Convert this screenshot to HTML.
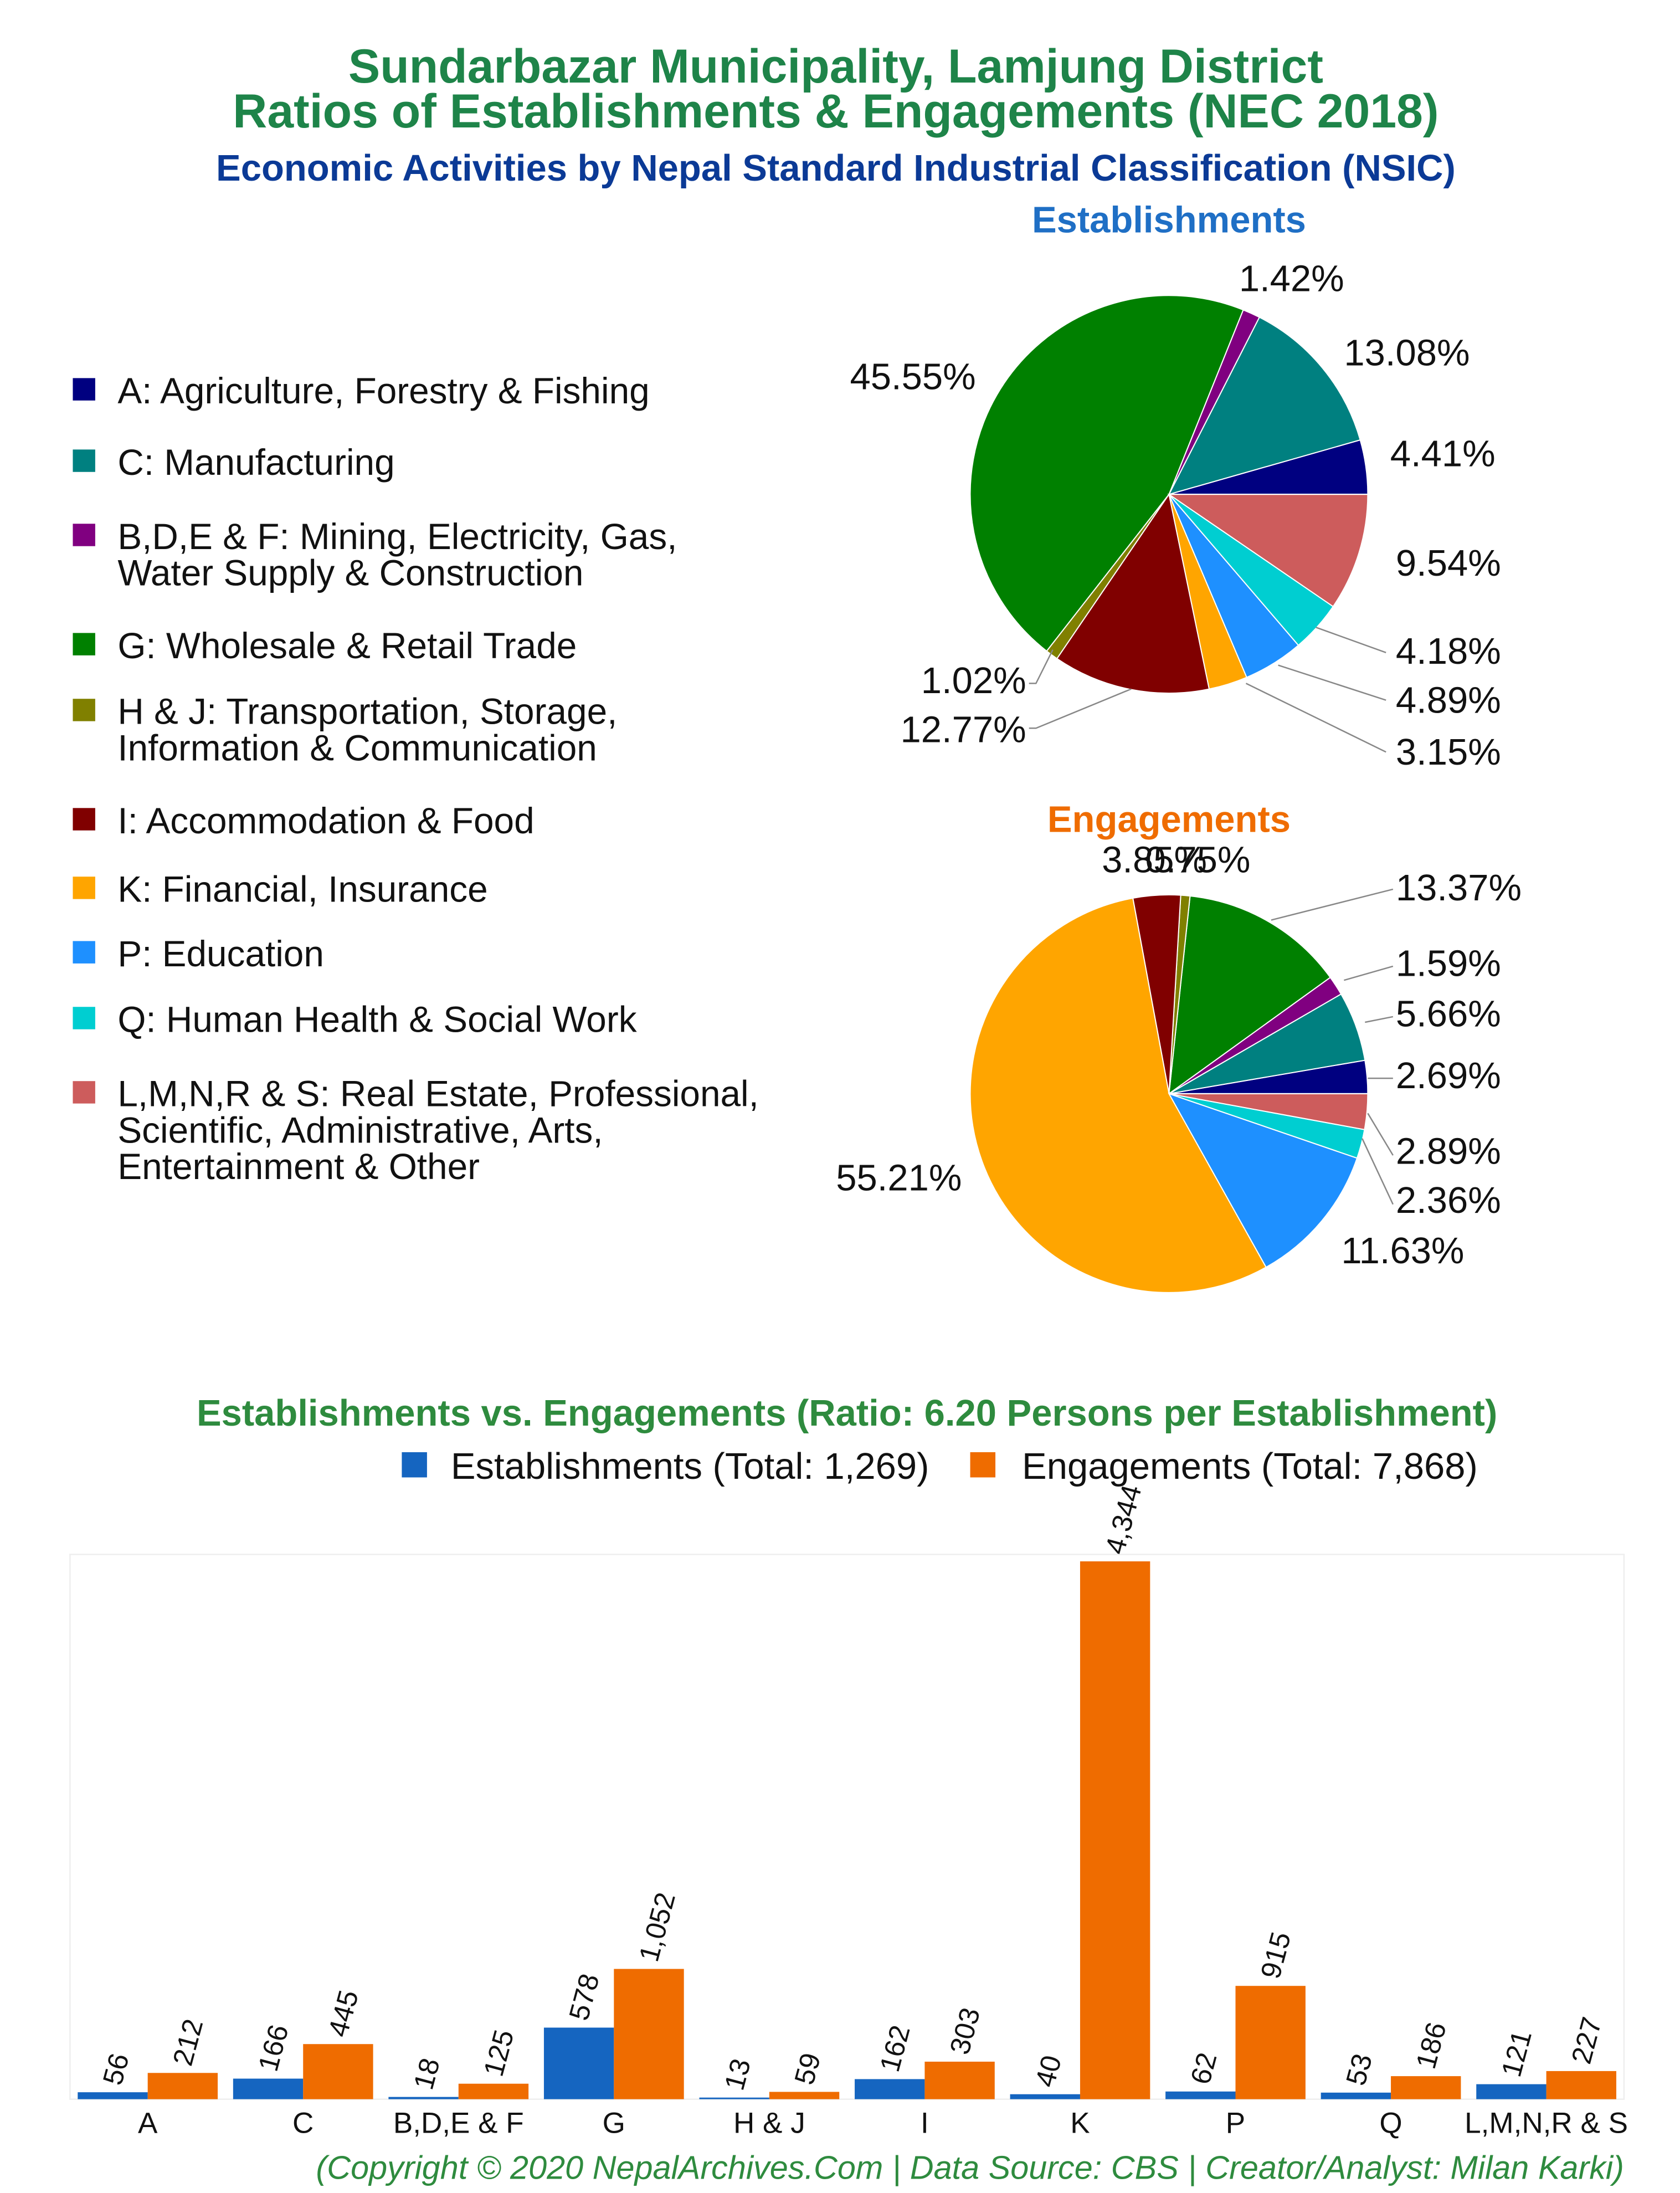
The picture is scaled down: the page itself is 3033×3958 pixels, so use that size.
<!DOCTYPE html>
<html><head><meta charset="utf-8">
<style>
html,body{margin:0;padding:0;background:#fff;}
svg{display:block;font-family:"Liberation Sans",Arial,sans-serif;}
</style></head>
<body>
<svg id="chart" width="3033" height="3958" viewBox="0 0 1200 1566" xmlns="http://www.w3.org/2000/svg">
<rect width="1200" height="1566" fill="#fff"/>
<text x="597" y="59" text-anchor="middle" font-size="34" font-weight="bold" fill="#1e8449">Sundarbazar Municipality, Lamjung District</text>
<text x="597" y="91" text-anchor="middle" font-size="34" font-weight="bold" fill="#1e8449">Ratios of Establishments &amp; Engagements (NEC 2018)</text>
<text x="597" y="129" text-anchor="middle" font-size="26.5" font-weight="bold" fill="#0b3a96">Economic Activities by Nepal Standard Industrial Classification (NSIC)</text>
<text x="835" y="166" text-anchor="middle" font-size="26.5" font-weight="bold" fill="#1f6fc5">Establishments</text>
<text x="835" y="594" text-anchor="middle" font-size="26.5" font-weight="bold" fill="#ef6c00">Engagements</text>
<g id="legend"></g>
<g id="pie1"></g>
<g id="pie2"></g>
<g id="pielabels"></g>
<text x="605" y="1018" text-anchor="middle" font-size="26.5" font-weight="bold" fill="#2e8b3e">Establishments vs. Engagements (Ratio: 6.20 Persons per Establishment)</text>
<rect x="287" y="1037" width="18" height="18" fill="#1565c0"/>
<text x="322" y="1056" font-size="26.5" fill="#111">Establishments (Total: 1,269)</text>
<rect x="693" y="1037" width="18" height="18" fill="#ef6c00"/>
<text x="730" y="1056" font-size="26.5" fill="#111">Engagements (Total: 7,868)</text>
<rect x="50" y="1110" width="1110" height="389" fill="none" stroke="#eee"/>
<g id="bars"></g>
<text x="1160" y="1556" text-anchor="end" font-size="23.5" font-style="italic" fill="#2e8b3e">(Copyright © 2020 NepalArchives.Com | Data Source: CBS | Creator/Analyst: Milan Karki)</text>
</svg>
<script>
const categories = ["A","C","B,D,E & F","G","H & J","I","K","P","Q","L,M,N,R & S"];
const establishments = [56,166,18,578,13,162,40,62,53,121];
const engagements = [212,445,125,1052,59,303,4344,915,186,227];
const estPct = [4.41,13.08,1.42,45.55,1.02,12.77,3.15,4.89,4.18,9.54];
const engPct = [2.69,5.66,1.59,13.37,0.75,3.85,55.21,11.63,2.36,2.89];
const colors = ["#000080","#008080","#800080","#008000","#808000","#800000","#ffa500","#1e90ff","#00ced1","#cd5c5c"];
const legendLines = [["A: Agriculture, Forestry & Fishing"],["C: Manufacturing"],["B,D,E & F: Mining, Electricity, Gas,","Water Supply & Construction"],["G: Wholesale & Retail Trade"],["H & J: Transportation, Storage,","Information & Communication"],["I: Accommodation & Food"],["K: Financial, Insurance"],["P: Education"],["Q: Human Health & Social Work"],["L,M,N,R & S: Real Estate, Professional,","Scientific, Administrative, Arts,","Entertainment & Other"]];
const legendY = [279,330,383,461,508,586,635,681,728,781];
const NS="http://www.w3.org/2000/svg";
function mk(t,a,p){const e=document.createElementNS(NS,t);for(const k in a)e.setAttribute(k,a[k]);p.appendChild(e);return e;}
const lg=document.getElementById('legend');
legendLines.forEach((ls,i)=>{
  const r=mk('rect',{x:52,y:legendY[i]-9,width:16,height:16,fill:colors[i]},lg);
  
  
  ls.forEach((l,j)=>{
    const t=mk('text',{x:84,y:legendY[i]+9+j*26,'font-size':26,fill:'#111'},lg);
    t.textContent=l;
    
    
  });
});
function pie(gid,cx,cy,r,pct){
  const g=document.getElementById(gid);
  const tot=pct.reduce((a,b)=>a+b,0);
  let a0=0;
  pct.forEach((v,i)=>{
    const a1=a0+v/tot*2*Math.PI;
    const x0=cx+r*Math.cos(a0),y0=cy-r*Math.sin(a0),x1=cx+r*Math.cos(a1),y1=cy-r*Math.sin(a1);
    const large=(a1-a0)>Math.PI?1:0;
    const p=mk('path',{d:`M${cx},${cy}L${x0},${y0}A${r},${r} 0 ${large} 0 ${x1},${y1}Z`,fill:colors[i],stroke:'#fff','stroke-width':0.8},g);
    
    
    a0=a1;
  });
}
pie('pie1',835,353,142,estPct);
pie('pie2',835,781,142,engPct);
const pl=document.getElementById('pielabels');
function lab(x,y,txt,anchor){
  const t=mk('text',{x:x,y:y,'font-size':26.5,fill:'#111','text-anchor':anchor||'start'},pl);
  t.textContent=txt;
  
  
}
function ln(pts){const p=mk('polyline',{points:pts,fill:'none',stroke:'#888','stroke-width':1},pl);
  
  }
const f=v=>v.toFixed(2)+'%';
lab(885,208,f(estPct[2]));lab(960,261,f(estPct[1]));lab(993,333,f(estPct[0]));lab(697,278,f(estPct[3]),'end');
lab(997,411,f(estPct[9]));lab(997,474,f(estPct[8]));lab(997,509,f(estPct[7]));lab(997,546,f(estPct[6]));
lab(733,495,f(estPct[4]),'end');lab(733,530,f(estPct[5]),'end');
ln("940,448 990,466");ln("913,475 990,500");ln("890,488 990,537");ln("752,464 740,488 735,488");ln("808,492 740,520 735,520");
lab(787,623,f(engPct[5]));lab(818,623,f(engPct[4]));
lab(997,643,f(engPct[3]));lab(997,697,f(engPct[2]));lab(997,733,f(engPct[1]));lab(997,777,f(engPct[0]));
lab(997,831,f(engPct[9]));lab(997,866,f(engPct[8]));lab(958,902,f(engPct[7]));lab(687,850,f(engPct[6]),'end');
ln("908,657 995,635");ln("960,700 995,690");ln("975,730 995,726");ln("977,770 995,770");ln("977,795 995,825");ln("973,813 995,860");
const bg=document.getElementById('bars');
const x0=50,plotW=1110,yBase=1499,yMax=4400,plotH=389;
const band=plotW/categories.length,bw=50;
const yS=v=>yBase-v/yMax*plotH;
const fmt=v=>v.toLocaleString('en-US');
categories.forEach((c,i)=>{
  const cx=x0+band*(i+0.5);
  [[establishments[i],'#1565c0',cx-bw],[engagements[i],'#ef6c00',cx]].forEach(([v,col,bx],k)=>{
    const r=mk('rect',{x:bx,y:yS(v),width:bw,height:yBase-yS(v),fill:col},bg);
    
    
    const tx=bx+bw/2+6,ty=yS(v)-4;
    const t=mk('text',{x:tx,y:ty,'font-size':20,fill:'#111',transform:`rotate(-75 ${tx} ${ty})`},bg);
    t.textContent=fmt(v);
    
    
  });
  const t=mk('text',{x:cx,y:1523,'font-size':21,fill:'#111','text-anchor':'middle'},bg);
  t.textContent=c;
  
  
});
</script>
</body></html>
